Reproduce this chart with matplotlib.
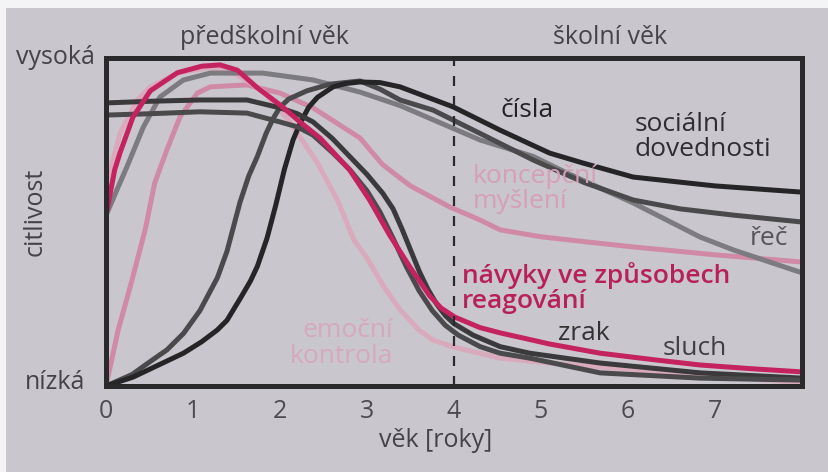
import matplotlib
matplotlib.use("Agg")
import matplotlib.pyplot as plt
from matplotlib.patches import Rectangle

plt.rcParams['font.family'] = ['Open Sans', 'DejaVu Sans']

# ---- data (age in years, sensitivity 0 = nízká .. 1 = vysoká) ----
navyky_x = [0, 0.10, 0.16, 0.31, 0.51, 0.82, 1.1, 1.31, 1.51, 1.74, 2.0, 2.23, 2.46, 2.8, 3.03, 3.26, 3.5, 3.72, 3.85, 4.01, 4.3, 4.53, 5.1, 5.68, 6.3, 6.83, 7.4, 8.0]
navyky_y = [0.52, 0.659, 0.71, 0.82, 0.90, 0.955, 0.975, 0.979, 0.963, 0.909, 0.857, 0.805, 0.756, 0.659, 0.567, 0.46, 0.36, 0.275, 0.238, 0.21, 0.178, 0.162, 0.128, 0.10, 0.08, 0.064, 0.053, 0.043]

emocni_x = [0, 0.05, 0.16, 0.36, 0.51, 0.85, 1.2, 1.5, 1.8, 2.1, 2.43, 2.66, 2.85, 3.0, 3.2, 3.38, 3.6, 3.76, 3.99, 4.53, 5.1, 5.68, 6.8, 8.0]
emocni_y = [0.56, 0.66, 0.77, 0.872, 0.912, 0.957, 0.97, 0.95, 0.90, 0.81, 0.68, 0.567, 0.445, 0.39, 0.30, 0.232, 0.17, 0.14, 0.119, 0.085, 0.07, 0.058, 0.035, 0.009]

koncepcni_x = [0, 0.14, 0.29, 0.45, 0.56, 0.70, 0.85, 1.05, 1.20, 1.62, 2.0, 2.38, 2.92, 3.05, 3.18, 3.35, 3.5, 3.95, 4.3, 4.53, 5.0, 5.5, 6.06, 7.0, 8.0]
koncepcni_y = [0.0, 0.171, 0.314, 0.476, 0.619, 0.72, 0.82, 0.893, 0.912, 0.918, 0.893, 0.848, 0.756, 0.715, 0.675, 0.64, 0.61, 0.546, 0.506, 0.476, 0.455, 0.44, 0.424, 0.40, 0.378]

rec_x = [0, 0.14, 0.24, 0.43, 0.62, 0.89, 1.20, 1.80, 2.38, 2.92, 3.38, 3.95, 4.30, 4.91, 5.30, 6.06, 6.83, 7.21, 8.0]
rec_y = [0.52, 0.607, 0.668, 0.79, 0.881, 0.933, 0.954, 0.954, 0.933, 0.896, 0.855, 0.79, 0.75, 0.70, 0.649, 0.558, 0.454, 0.415, 0.345]

cisla_x = [0, 0.3, 0.51, 0.7, 0.89, 1.08, 1.28, 1.39, 1.46, 1.54, 1.64, 1.74, 1.84, 1.92, 2.0, 2.1, 2.31, 2.57, 2.92, 3.15, 3.38, 3.76, 4.3, 4.91, 5.5, 6.06, 6.6, 7.21, 8.0]
cisla_y = [0, 0.035, 0.075, 0.11, 0.16, 0.23, 0.33, 0.41, 0.48, 0.56, 0.64, 0.70, 0.77, 0.815, 0.85, 0.875, 0.90, 0.92, 0.93, 0.905, 0.872, 0.841, 0.77, 0.689, 0.62, 0.567, 0.54, 0.521, 0.50]

socialni_x = [0, 0.31, 0.89, 1.1, 1.28, 1.39, 1.55, 1.66, 1.74, 1.85, 1.95, 2.05, 2.15, 2.23, 2.33, 2.43, 2.61, 2.75, 2.92, 3.15, 3.38, 3.57, 3.99, 4.53, 5.10, 5.48, 6.06, 7.0, 8.0]
socialni_y = [0, 0.027, 0.10, 0.135, 0.171, 0.20, 0.27, 0.32, 0.365, 0.45, 0.55, 0.66, 0.75, 0.80, 0.85, 0.88, 0.912, 0.922, 0.927, 0.925, 0.912, 0.893, 0.851, 0.78, 0.71, 0.68, 0.637, 0.61, 0.591]

sluch_x = [0, 0.5, 1.08, 1.62, 2.0, 2.2, 2.38, 2.6, 2.80, 3.0, 3.18, 3.3, 3.4, 3.5, 3.6, 3.7, 3.8, 3.9, 4.0, 4.22, 4.53, 4.87, 5.68, 6.83, 8.0]
sluch_y = [0.863, 0.868, 0.872, 0.872, 0.848, 0.83, 0.805, 0.755, 0.70, 0.645, 0.588, 0.54, 0.48, 0.415, 0.35, 0.295, 0.25, 0.215, 0.19, 0.155, 0.12, 0.10, 0.07, 0.04, 0.024]

zrak_x = [0, 0.5, 1.08, 1.62, 2.0, 2.2, 2.38, 2.61, 2.8, 3.0, 3.15, 3.3, 3.45, 3.6, 3.75, 3.9, 4.05, 4.3, 4.53, 4.87, 5.68, 6.83, 8.0]
zrak_y = [0.826, 0.83, 0.836, 0.832, 0.805, 0.79, 0.765, 0.71, 0.66, 0.595, 0.53, 0.45, 0.365, 0.29, 0.23, 0.185, 0.155, 0.12, 0.10, 0.085, 0.04, 0.024, 0.018]

x_ticks = [0, 1, 2, 3, 4, 5, 6, 7]
x_tick_labels = ['0', '1', '2', '3', '4', '5', '6', '7']
school_start = 4

# ---- figure ----
BG = '#c9c7cd'
fig = plt.figure(figsize=(8.29, 4.72), dpi=100, facecolor=BG)
fig.patches.append(Rectangle((0, 1 - 8 / 472), 1, 8 / 472, transform=fig.transFigure,
                             facecolor='#f4f4f6', edgecolor='none', zorder=0))
fig.patches.append(Rectangle((0, 0), 6 / 829, 1, transform=fig.transFigure,
                             facecolor='#f4f4f6', edgecolor='none', zorder=0))

ax = fig.add_axes([106 / 829, 86 / 472, 696 / 829, 328 / 472])
ax.set_facecolor(BG)
ax.set_xlim(0, 8)
ax.set_ylim(0, 1)

LW = 3.6
kw = dict(lw=LW, solid_capstyle='round', solid_joinstyle='round')
ax.plot(koncepcni_x, koncepcni_y, color='#d08aa6', **kw)
ax.plot(emocni_x, emocni_y, color='#d9a9bc', **kw)
ax.plot(rec_x, rec_y, color='#7c7b80', **kw)
ax.plot(cisla_x, cisla_y, color='#4a494c', **kw)
ax.plot(socialni_x, socialni_y, color='#252426', **kw)
ax.plot(sluch_x, sluch_y, color='#3a393b', **kw)
ax.plot(zrak_x, zrak_y, color='#4a494c', **kw)
ax.plot(navyky_x, navyky_y, color='#c4235f', **kw)

ax.axvline(school_start, color='#2a2a2a', lw=1.6, dashes=(4.5, 4.5))

for s in ax.spines.values():
    s.set_color('#2a292b')
    s.set_linewidth(3.6)
    s.set_zorder(5)

ax.set_xticks(x_ticks)
ax.set_xticklabels(x_tick_labels)
ax.set_yticks([])
ax.tick_params(axis='x', length=0, pad=9, labelsize=18, labelcolor='#4c4b4f')

TC = '#444347'
FS = 18
ax.text(-0.016, 1.0, 'vysoká', transform=ax.transAxes, ha='right', va='center', fontsize=FS, color=TC)
ax.text(-0.03, 0.01, 'nízká', transform=ax.transAxes, ha='right', va='center', fontsize=FS, color=TC)
ax.text(-0.102, 0.53, 'citlivost', transform=ax.transAxes, ha='center', va='center', rotation=90, fontsize=FS, color=TC)
ax.text(0.228, 1.062, 'předškolní věk', transform=ax.transAxes, ha='center', va='center', fontsize=FS, color=TC)
ax.text(0.724, 1.062, 'školní věk', transform=ax.transAxes, ha='center', va='center', fontsize=FS, color=TC)
ax.text(0.473, -0.165, 'věk [roky]', transform=ax.transAxes, ha='center', va='center', fontsize=FS, color=TC)

LS = 19
ax.text(4.53, 0.841, 'čísla', ha='left', va='center', fontsize=LS, color='#232224')
ax.text(6.08, 0.76, 'sociální\ndovednosti', ha='left', va='center', fontsize=LS, color='#2e2d30', linespacing=1.0)
ax.text(4.22, 0.60, 'koncepční\nmyšlení', ha='left', va='center', fontsize=LS, color='#d5a0b6', linespacing=1.0)
ax.text(7.39, 0.45, 'řeč', ha='left', va='center', fontsize=LS, color='#555458')
ax.text(4.09, 0.30, 'návyky ve způsobech\nreagování', ha='left', va='center', fontsize=LS, color='#b8205a', linespacing=1.0, fontweight='semibold')
ax.text(5.19, 0.16, 'zrak', ha='left', va='center', fontsize=LS, color='#333235')
ax.text(6.4, 0.115, 'sluch', ha='left', va='center', fontsize=LS, color='#403f42')
ax.text(3.3, 0.13, 'emoční\nkontrola', ha='right', va='center', fontsize=LS, color='#d6a8bb', linespacing=1.05)

fig.savefig('out.png', dpi=100, facecolor=BG)
